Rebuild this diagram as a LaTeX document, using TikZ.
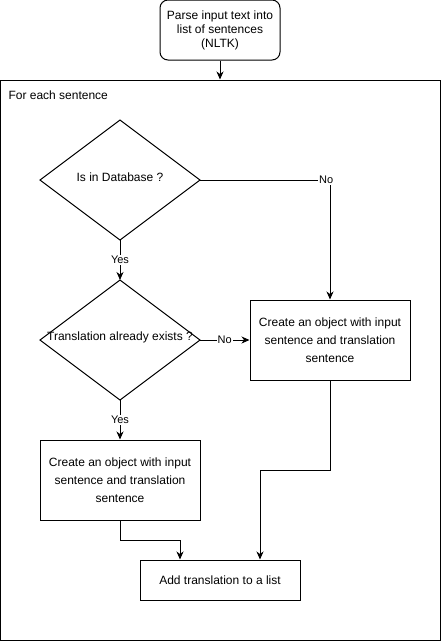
\documentclass[tikz,border=0pt]{standalone}
\usepackage{fontspec}
\setmainfont{Liberation Sans}
\usetikzlibrary{shapes.geometric,arrows.meta}
\begin{document}
\begin{tikzpicture}[x=1pt,y=-1pt,
  every node/.style={font=\fontsize{12}{18}\selectfont},
  proc/.style={draw,line width=1pt,minimum width=160pt,minimum height=80pt,align=center,inner sep=2pt},
  conn/.style={line width=1pt,-{Stealth[length=8pt,width=7pt,inset=2.5pt]}},
  lbl/.style={fill=white,inner sep=1pt,font=\fontsize{11}{13}\selectfont}]
\useasboundingbox (0,0) rectangle (441,641);
\node[draw,line width=1pt,rounded corners=8pt,minimum width=120pt,minimum height=60pt,align=center,font=\fontsize{12}{14}\selectfont] (parse) at (220,30) {Parse input text into\\list of sentences\\(NLTK)};
\node[draw,line width=1pt,minimum width=440pt,minimum height=560pt,inner sep=0pt] (loop) at (220,360) {};
\node[anchor=west] (title) at (5,95) {For each sentence};
\path[draw,line width=1pt] (40,180) coordinate (d1w) -- (120,120) coordinate (d1n) -- (200,180) coordinate (d1e) -- (120,240) coordinate (d1s) -- cycle;
\node (d1t) at (120,177) {Is in Database ?};
\path[draw,line width=1pt] (40,340) coordinate (d2w) -- (120,280) coordinate (d2n) -- (200,340) coordinate (d2e) -- (120,400) coordinate (d2s) -- cycle;
\node (d2t) at (120,337) {Translation already exists ?};
\node[proc] (objR) at (330,340) {Create an object with input\\sentence and translation\\sentence};
\node[proc] (objL) at (120,480) {Create an object with input\\sentence and translation\\sentence};
\node[draw,line width=1pt,minimum width=160pt,minimum height=40pt] (add) at (220,580) {Add translation to a list};
\draw[conn] (parse.south) -- (loop.north);
\draw[conn] (d1s) -- node[lbl] {Yes} (d2n);
\draw[conn] (d1e) -- node[lbl,pos=0.97] {No} (d1e -| objR.north) -- (objR.north);
\draw[conn] (d2e) -- node[lbl] {No} (objR.west);
\draw[conn] (d2s) -- node[lbl] {Yes} (objL.north);
\draw[conn] (objL.south) |- (180,540) -- (add.north -| 180,0);
\draw[conn] (objR.south) |- (260,470) -- (add.north -| 260,0);
\end{tikzpicture}
\end{document}
